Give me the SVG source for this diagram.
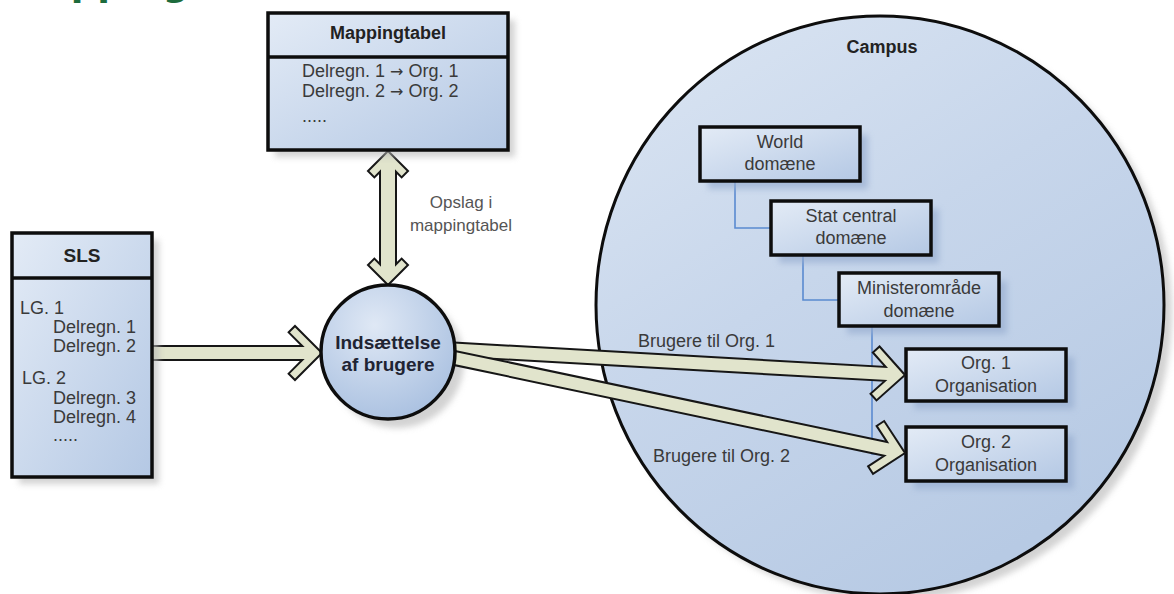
<svg xmlns="http://www.w3.org/2000/svg" width="1174" height="594" viewBox="0 0 1174 594">
<defs>
  <linearGradient id="boxG" x1="0" y1="0" x2="1" y2="1">
    <stop offset="0" stop-color="#e3ebf6"/>
    <stop offset="1" stop-color="#b4c8e4"/>
  </linearGradient>
  <linearGradient id="campG" x1="0" y1="0" x2="0.6" y2="1">
    <stop offset="0" stop-color="#dce6f3"/>
    <stop offset="0.5" stop-color="#c7d6eb"/>
    <stop offset="1" stop-color="#b7cae4"/>
  </linearGradient>
  <radialGradient id="circG" cx="0.4" cy="0.3" r="0.75">
    <stop offset="0" stop-color="#dfe8f5"/>
    <stop offset="1" stop-color="#a9c0e0"/>
  </radialGradient>
  <filter id="blur" x="-20%" y="-20%" width="140%" height="140%">
    <feGaussianBlur stdDeviation="3"/>
  </filter>
</defs>
<style>
  .box{fill:url(#boxG);stroke:#0d0d0d;stroke-width:3.5}
  .shadow{fill:#b5b5b5;opacity:.6;filter:url(#blur)}
  .ishadow{fill:#98aed0;opacity:.7;filter:url(#blur)}
  .t{font-family:"Liberation Sans",Arial,sans-serif;font-size:18px;fill:#3a3a3a}
  .b{font-weight:bold;fill:#222}
  .c{text-anchor:middle}
  .lbl{fill:#555;font-size:17px}
  .ar{font-family:"DejaVu Sans",sans-serif;font-size:16px}
  .arr{fill:#e1e4cc;stroke:#161616;stroke-width:2;stroke-linejoin:miter}
  .con{fill:none;stroke:#5a8ad0;stroke-width:1.6}
</style>

<text x="9" y="-5" font-family="DejaVu Sans, sans-serif" font-weight="bold" font-size="37" fill="#1d6b3c">Mapping</text>

<g id="campus">
  <ellipse cx="888" cy="312" rx="284" ry="289" class="shadow"/>
  <ellipse cx="880" cy="305" rx="284" ry="289" fill="url(#campG)" stroke="#0d0d0d" stroke-width="3"/>
  <text x="882" y="53" class="t b c">Campus</text>
</g>

<g id="tree-connectors">
  <path class="con" d="M735,181 V228 H771"/>
  <path class="con" d="M803,255 V300 H839"/>
  <path class="con" d="M872,326 V454 H906 M872,375 H906"/>
</g>

<g id="world">
  <rect x="708" y="135" width="160" height="54" class="ishadow"/>
  <rect x="700" y="127" width="160" height="54" class="box"/>
  <text x="780" y="148" class="t c">World</text>
  <text x="780" y="170" class="t c">domæne</text>
</g>
<g id="stat">
  <rect x="779" y="209" width="160" height="54" class="ishadow"/>
  <rect x="771" y="201" width="160" height="54" class="box"/>
  <text x="851" y="222" class="t c">Stat central</text>
  <text x="851" y="244" class="t c">domæne</text>
</g>
<g id="ministeromraade">
  <rect x="847" y="281" width="160" height="53" class="ishadow"/>
  <rect x="839" y="273" width="160" height="53" class="box"/>
  <text x="919" y="294" class="t c">Ministerområde</text>
  <text x="919" y="317" class="t c">domæne</text>
</g>
<g id="org1">
  <rect x="914" y="357" width="160" height="52" class="ishadow"/>
  <rect x="906" y="349" width="160" height="52" class="box"/>
  <text x="986" y="369" class="t c">Org. 1</text>
  <text x="986" y="392" class="t c">Organisation</text>
</g>
<g id="org2">
  <rect x="914" y="435" width="160" height="54" class="ishadow"/>
  <rect x="906" y="427" width="160" height="54" class="box"/>
  <text x="986" y="448" class="t c">Org. 2</text>
  <text x="986" y="471" class="t c">Organisation</text>
</g>

<g id="indsaettelse-shadow">
  <circle cx="397" cy="361" r="67" class="shadow"/>
</g>

<g id="connectors">
  <polygon class="arr" points="148,346 302.27,346 288.64,332.36 295,326 322,353 295,380 288.64,373.64 302.27,360 148,360"/>
  <polygon class="arr" points="388,151 408,171 401.64,177.36 396,171.73 396,264.27 401.64,258.64 408,265 388,285 368,265 374.36,258.64 380,264.27 380,171.73 374.36,177.36 368,171"/>
  <polygon class="arr" transform="translate(905,375) rotate(3.235)" points="-461,-7 -19.73,-7 -33.36,-20.64 -27,-27 0,0 -27,27 -33.36,20.64 -19.73,7 -461,7"/>
  <polygon class="arr" transform="translate(905,453) rotate(11.91)" points="-470,-7 -19.73,-7 -33.36,-20.64 -27,-27 0,0 -27,27 -33.36,20.64 -19.73,7 -470,7"/>
  <text x="461" y="208" class="t c lbl">Opslag i</text>
  <text x="461" y="231" class="t c lbl">mappingtabel</text>
  <text x="638" y="347" class="t">Brugere til Org. 1</text>
  <text x="653" y="462" class="t">Brugere til Org. 2</text>
</g>

<g id="indsaettelse">
  <circle cx="388" cy="352" r="67" fill="url(#circG)" stroke="#0d0d0d" stroke-width="3.5"/>
  <text x="388" y="349" class="t b c" style="font-size:19px;fill:#1f2433">Indsættelse</text>
  <text x="388" y="371" class="t b c" style="font-size:19px;fill:#1f2433">af brugere</text>
</g>

<g id="sls">
  <rect x="19" y="240" width="140" height="244" class="shadow"/>
  <rect x="12" y="233" width="140" height="244" class="box"/>
  <line x1="12" y1="278" x2="152" y2="278" stroke="#0d0d0d" stroke-width="3.5"/>
  <text x="82" y="262" class="t b c" style="font-size:19px">SLS</text>
  <text x="20" y="314" class="t">LG. 1</text>
  <text x="53" y="333" class="t">Delregn. 1</text>
  <text x="53" y="352" class="t">Delregn. 2</text>
  <text x="22" y="384" class="t">LG. 2</text>
  <text x="53" y="404" class="t">Delregn. 3</text>
  <text x="53" y="423" class="t">Delregn. 4</text>
  <text x="53" y="441" class="t">.....</text>
</g>

<g id="mappingtabel">
  <rect x="275" y="20" width="240" height="137" class="shadow"/>
  <rect x="268" y="13" width="240" height="137" class="box"/>
  <line x1="268" y1="57" x2="508" y2="57" stroke="#0d0d0d" stroke-width="3.5"/>
  <text x="388" y="39" class="t b c">Mappingtabel</text>
  <text x="302" y="77" class="t">Delregn. 1 <tspan class="ar">→</tspan> Org. 1</text>
  <text x="302" y="97" class="t">Delregn. 2 <tspan class="ar">→</tspan> Org. 2</text>
  <text x="302" y="122" class="t">.....</text>
</g>
</svg>
